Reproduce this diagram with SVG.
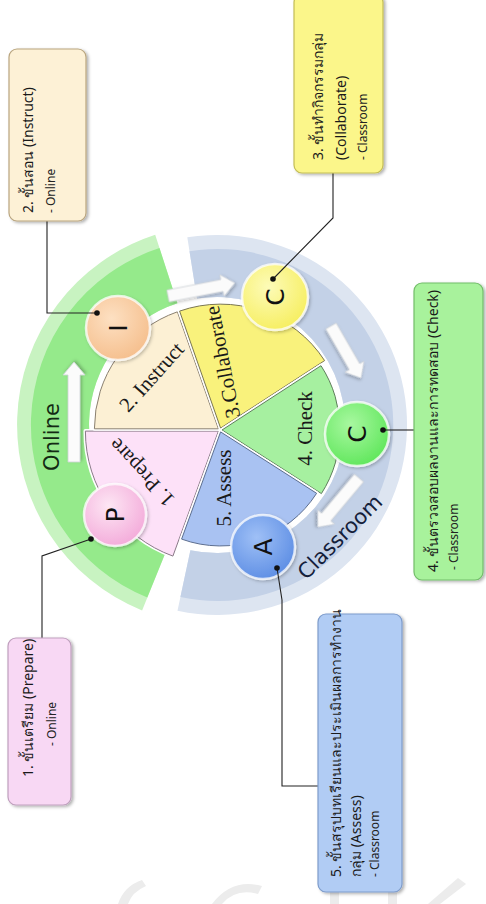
<svg xmlns="http://www.w3.org/2000/svg" width="486" height="904" viewBox="0 0 486 904">
<defs>
<style>
.box{stroke-width:1.2}
.bt{font-family:Tahoma,"Noto Sans","DejaVu Sans",sans-serif;font-size:14px;fill:#1a1a1a}
.bs{font-family:Tahoma,"Noto Sans","DejaVu Sans",sans-serif;font-size:12px;fill:#222}
.sec{stroke-width:1}
.gap{fill:none;stroke:#fff;stroke-width:4;stroke-linejoin:round}
.sl{font-family:"Liberation Serif","Times New Roman",serif;font-size:21px;fill:#1a1a1a;text-anchor:middle;dominant-baseline:central}
.cl{font-family:"DejaVu Sans","Liberation Sans",sans-serif;font-size:25px;fill:#111;text-anchor:middle;dominant-baseline:central}
.band{font-family:"DejaVu Sans","Liberation Sans",sans-serif;font-size:21px;text-anchor:middle;dominant-baseline:central}
.con{fill:none;stroke:#222;stroke-width:1.1}
.dot{fill:#111}
.arr{fill:#fbfbfb;stroke:#cfd3d8;stroke-width:0.8}
.node{stroke:#fff;stroke-opacity:0.75;stroke-width:2.5}
.wm{fill:#ececec}
</style>
<radialGradient id="gP" cx="0.4" cy="0.35" r="0.7"><stop offset="0" stop-color="#fde6f4"/><stop offset="1" stop-color="#f3a9d9"/></radialGradient>
<radialGradient id="gI" cx="0.4" cy="0.35" r="0.7"><stop offset="0" stop-color="#fde0c2"/><stop offset="1" stop-color="#f5be8c"/></radialGradient>
<radialGradient id="gC1" cx="0.4" cy="0.35" r="0.7"><stop offset="0" stop-color="#fdfbb8"/><stop offset="1" stop-color="#f6ee5e"/></radialGradient>
<radialGradient id="gC2" cx="0.4" cy="0.35" r="0.7"><stop offset="0" stop-color="#a8f8a0"/><stop offset="1" stop-color="#5ee65a"/></radialGradient>
<radialGradient id="gA" cx="0.4" cy="0.35" r="0.7"><stop offset="0" stop-color="#9fc0f6"/><stop offset="1" stop-color="#5c8de4"/></radialGradient>
<filter id="sh" x="-10%" y="-10%" width="130%" height="130%"><feDropShadow dx="2" dy="1.5" stdDeviation="1.5" flood-color="#000" flood-opacity="0.3"/></filter>
<filter id="sh2" x="-20%" y="-20%" width="140%" height="140%"><feDropShadow dx="1.5" dy="1.5" stdDeviation="1.5" flood-color="#000" flood-opacity="0.25"/></filter>
</defs>
<rect width="486" height="904" fill="#fff"/>

<!-- faint watermark fragments at the bottom edge -->
<g id="watermark">
<path class="wm" d="M118,904 Q124,886 142,880 L146,886 Q132,892 128,904 Z"/>
<path class="wm" d="M212,904 Q232,878 262,886 L258,894 Q236,888 222,904 Z"/>
<rect class="wm" x="330" y="884" width="9" height="20"/>
<rect class="wm" x="388" y="880" width="9" height="24"/>
<path class="wm" d="M428,904 L458,878 L466,884 L440,904 Z"/>
</g>

<!-- bands -->
<g id="band-online">
<path d="M142.1,610.4 A200,200 0 0 1 155.2,234.8 L177.4,303.3 A128,128 0 0 0 169.1,543.7 Z" fill="#c8f3c1"/>
<path d="M147.3,597.5 A186,186 0 0 1 159.5,248.1 L177.4,303.3 A128,128 0 0 0 169.1,543.7 Z" fill="#95ea8b"/>
<text class="band" transform="translate(52,437) rotate(-90)" fill="#132a13">Online</text>
</g>
<g id="band-classroom">
<path d="M187.3,237.3 A190,190 0 1 1 177.5,610.8 L190.4,550.2 A128,128 0 1 0 197.0,298.6 Z" fill="#dde5f1"/>
<path d="M189.5,251.2 A176,176 0 1 1 180.4,597.1 L190.4,550.2 A128,128 0 1 0 197.0,298.6 Z" fill="#c3d1e7"/>
<text class="band" transform="translate(340,537) rotate(-45)" fill="#14203a">Classroom</text>
</g>

<!-- pie sectors -->
<g id="s-prepare">
<path class="gap" d="M218.4,431.1 L172.9,556.1 A133,133 0 0 1 85.4,431.1 Z"/>
<path class="sec" d="M218.4,431.1 L172.9,556.1 A133,133 0 0 1 85.4,431.1 Z" fill="#fde1f8" stroke="#8a7a88"/>
<text class="sl" transform="translate(141.5,472.5) rotate(227)">1. Prepare</text>
</g>
<g id="s-instruct">
<path class="gap" d="M218.4,428.8 L94.4,428.8 A124,124 0 0 1 177.4,311.8 Z"/>
<path class="sec" d="M218.4,428.8 L94.4,428.8 A124,124 0 0 1 177.4,311.8 Z" fill="#fcf0d4" stroke="#8a8070"/>
<text class="sl" transform="translate(151.5,377) rotate(-48)">2. Instruct</text>
</g>
<g id="s-collaborate">
<path class="gap" d="M220.6,428.1 L179.6,311.1 A124,124 0 0 1 324.6,360.6 Z"/>
<path class="sec" d="M220.6,428.1 L179.6,311.1 A124,124 0 0 1 324.6,360.6 Z" fill="#f9f27c" stroke="#7a7650"/>
<text class="sl" transform="translate(222.5,362) rotate(-101)">3.Collaborate</text>
</g>
<g id="s-check">
<path class="gap" d="M222,430 L321,365.7 A118,118 0 0 1 321.4,493.6 Z"/>
<path class="sec" d="M222,430 L321,365.7 A118,118 0 0 1 321.4,493.6 Z" fill="#a6f0a0" stroke="#5f7f5c"/>
<text class="sl" transform="translate(305,428.5) rotate(-90)">4. Check</text>
</g>
<g id="s-assess">
<path class="gap" d="M220.6,431.9 L316.6,493.3 A114,114 0 0 1 181.6,539.1 Z"/>
<path class="sec" d="M220.6,431.9 L316.6,493.3 A114,114 0 0 1 181.6,539.1 Z" fill="#a9c2f2" stroke="#5c6e90"/>
<text class="sl" transform="translate(224,488) rotate(-90)">5. Assess</text>
</g>

<!-- arrows -->
<g id="arrows">
<polygon class="arr" filter="url(#sh2)" transform="translate(74,462) rotate(-90)" points="0,-6 87,-6 87,-11 100,0 87,11 87,6 0,6"/>
<polygon class="arr" filter="url(#sh2)" transform="translate(168,296) rotate(-11)" points="0,-6 55,-6 55,-11 68,0 55,11 55,6 0,6"/>
<polygon class="arr" filter="url(#sh2)" transform="translate(331,326) rotate(60)" points="0,-6 47,-6 47,-11 60,0 47,11 47,6 0,6"/>
<polygon class="arr" filter="url(#sh2)" transform="translate(359,478) rotate(130)" points="0,-6 51,-6 51,-11 64,0 51,11 51,6 0,6"/>
</g>

<!-- circle nodes -->
<g id="n-P"><circle class="node" cx="115" cy="515" r="31" fill="url(#gP)" filter="url(#sh2)"/><text class="cl" transform="translate(115,515) rotate(-90)">P</text></g>
<g id="n-I"><circle class="node" cx="118" cy="328" r="32" fill="url(#gI)" filter="url(#sh2)"/><text class="cl" transform="translate(118,328) rotate(-90)">I</text></g>
<g id="n-C1"><circle class="node" cx="275" cy="297" r="33" fill="url(#gC1)" filter="url(#sh2)"/><text class="cl" transform="translate(275,297) rotate(-90)">C</text></g>
<g id="n-C2"><circle class="node" cx="357" cy="434" r="32" fill="url(#gC2)" filter="url(#sh2)"/><text class="cl" transform="translate(357,434) rotate(-90)">C</text></g>
<g id="n-A"><circle class="node" cx="263" cy="547" r="32" fill="url(#gA)" filter="url(#sh2)"/><text class="cl" transform="translate(263,547) rotate(-90)">A</text></g>

<!-- connectors -->
<g id="connectors">
<path class="con" d="M97,313 H47 V221"/>
<path class="con" d="M273,279 L333,218 V173"/>
<path class="con" d="M383,430 H414"/>
<path class="con" d="M91,539 L42,556 V638"/>
<path class="con" d="M277,568 L282,600 V786 H318"/>
<circle class="dot" cx="97" cy="313" r="2.8"/>
<circle class="dot" cx="273" cy="279" r="2.8"/>
<circle class="dot" cx="383" cy="430" r="2.8"/>
<circle class="dot" cx="91" cy="539" r="2.8"/>
<circle class="dot" cx="277" cy="568" r="2.8"/>
</g>

<!-- text boxes -->
<g id="box-instruct">
<rect class="box" x="9" y="49" width="77" height="172" rx="8" fill="#fdf1d6" stroke="#b9a57f" filter="url(#sh)"/>
<text class="bt" transform="translate(33,213) rotate(-90)">2. ขั้นสอน (Instruct)</text>
<text class="bs" transform="translate(55,213) rotate(-90)">- Online</text>
</g>
<g id="box-collaborate">
<rect class="box" x="294" y="-6" width="89" height="179" rx="8" fill="#fbf68a" stroke="#c4bd55" filter="url(#sh)"/>
<text class="bt" transform="translate(323,160) rotate(-90)">3. ขั้นทำกิจกรรมกลุ่ม</text>
<text class="bt" transform="translate(346,160) rotate(-90)">(Collaborate)</text>
<text class="bs" transform="translate(367,160) rotate(-90)">- Classroom</text>
</g>
<g id="box-check">
<rect class="box" x="414" y="283" width="69" height="297" rx="8" fill="#a8f29c" stroke="#73bd6a" filter="url(#sh)"/>
<text class="bt" transform="translate(438,572) rotate(-90)">4. ขั้นตรวจสอบผลงานและการทดสอบ (Check)</text>
<text class="bs" transform="translate(458,570) rotate(-90)">- Classroom</text>
</g>
<g id="box-prepare">
<rect class="box" x="8" y="638" width="63" height="167" rx="8" fill="#f8d8f4" stroke="#bf9fbd" filter="url(#sh)"/>
<text class="bt" transform="translate(33,777) rotate(-90)">1. ขั้นเตรียม (Prepare)</text>
<text class="bs" transform="translate(56,724) rotate(-90)" text-anchor="middle">- Online</text>
</g>
<g id="box-assess">
<rect class="box" x="318" y="614" width="84" height="278" rx="8" fill="#b1ccf4" stroke="#7e9ccb" filter="url(#sh)"/>
<text class="bt" transform="translate(341,877) rotate(-90)">5. ขั้นสรุปบทเรียนและประเมินผลการทำงาน</text>
<text class="bt" transform="translate(361,877) rotate(-90)">กลุ่ม (Assess)</text>
<text class="bs" transform="translate(379,877) rotate(-90)">- Classroom</text>
</g>
</svg>
